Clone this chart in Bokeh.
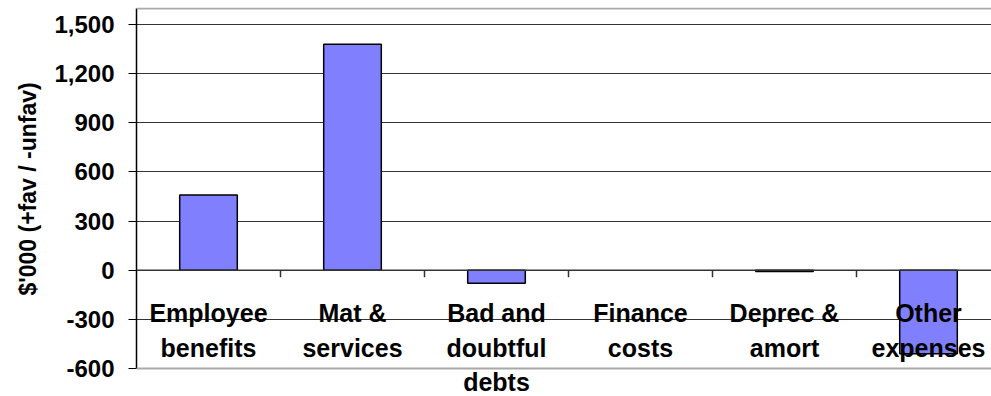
from bokeh.plotting import figure
from bokeh.models import Range1d, FixedTicker, NumeralTickFormatter, ColumnDataSource, LabelSet, Span, Title
from bokeh.core.properties import value
from bokeh.embed import file_html
from bokeh.resources import INLINE

categories = ["Employee\nbenefits", "Mat &\nservices", "Bad and\ndoubtful\ndebts",
              "Finance\ncosts", "Deprec &\namort", "Other\nexpenses"]
values = [460, 1380, -80, 0, -8, -510]
y_ticks = [-600, -300, 0, 300, 600, 900, 1200, 1500]
y_title = "$'000 (+fav / -unfav)"

FONT = "Liberation Sans"
xs = list(range(len(categories)))
PX = 2100 / 344.0  # data units per pixel

y_min, y_max = -600, 1598
p = figure(width=991, height=396, output_backend="svg", toolbar_location=None,
           x_range=Range1d(-0.5, -0.5 + 855 / 144),
           y_range=Range1d(y_min - 28 * PX, y_max + 1 * PX),
           min_border_left=136, min_border_right=0, min_border_top=7, min_border_bottom=0)
p.xaxis.visible = False
p.xgrid.visible = False
p.ygrid.grid_line_color = "#333333"
p.ygrid.grid_line_width = 1
p.ygrid.ticker = FixedTicker(ticks=y_ticks[1:])
p.outline_line_color = None
p.background_fill_color = "white"
p.border_fill_color = "white"

ya = p.yaxis[0]
ya.bounds = (y_min, y_max)
ya.ticker = FixedTicker(ticks=y_ticks)
ya.formatter = NumeralTickFormatter(format="0,0")
ya.major_tick_out = 8
ya.major_tick_in = 0
ya.minor_tick_line_color = None
ya.axis_line_color = "black"
ya.axis_line_width = 1.5
ya.major_tick_line_color = "black"
ya.major_label_text_font = FONT
ya.major_label_text_font_style = "bold"
ya.major_label_text_font_size = "24px"
ya.major_label_text_color = "black"
ya.major_label_standoff = 14

ytitle = Title(text=y_title, align="left", offset=101, text_font=FONT,
               text_font_style="bold", text_font_size="23px", text_color="black",
               standoff=22)
p.add_layout(ytitle, "left")

# plot-area borders (top and bottom, light grey)
p.add_layout(Span(location=y_min, dimension="width", line_color="#a8a8a8", line_width=2))
p.add_layout(Span(location=y_max, dimension="width", line_color="#a8a8a8", line_width=2))

# category axis line at zero with boundary ticks
p.add_layout(Span(location=0, dimension="width", line_color="#333333", line_width=1.5))
bounds = [i + 0.5 for i in xs[:-1]]
p.segment(x0=bounds, y0=[0] * len(bounds), x1=bounds, y1=[-7 * PX] * len(bounds),
          line_color="#333333", line_width=1.5)

bx = [x for x, v in zip(xs, values) if v != 0]
bv = [v for v in values if v != 0]
p.vbar(x=bx, top=bv, bottom=0, width=0.4,
       fill_color="#8080FF", line_color="black", line_width=1.5)

lx, ly, lt = [], [], []
for x, cat in zip(xs, categories):
    for k, line in enumerate(cat.split("\n")):
        lx.append(x)
        ly.append(-(29 + 34.5 * k) * PX)
        lt.append(line)
lsrc = ColumnDataSource(dict(x=lx, y=ly, text=lt))
labels = LabelSet(x="x", y="y", text="text", source=lsrc, text_align="center",
                  text_baseline="top", text_font=value(FONT),
                  text_font_style="bold", text_font_size="25px", text_color="black")
p.add_layout(labels)

open("out.html", "w").write(file_html(p, INLINE))
